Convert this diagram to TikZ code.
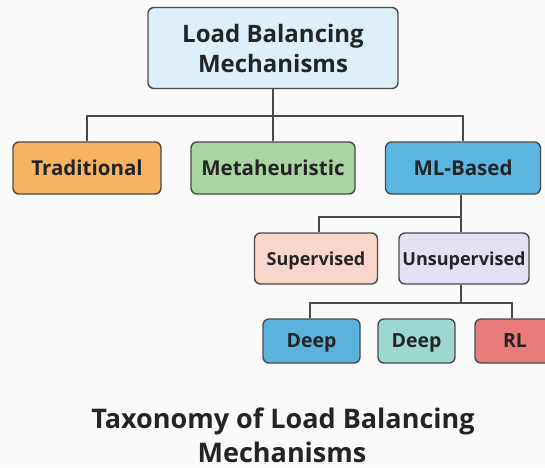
\documentclass[tikz,border=0pt]{standalone}
\usepackage{fontspec}
\setmainfont{Open Sans}
\usetikzlibrary{calc}

\definecolor{pagebg}{HTML}{FAFAFA}
\definecolor{edgegray}{HTML}{4A4A4A}
\definecolor{inkdark}{HTML}{222426}
\definecolor{rootfill}{HTML}{DDF0FA}
\definecolor{tradfill}{HTML}{F6B462}
\definecolor{metafill}{HTML}{A9D5A0}
\definecolor{mlfill}{HTML}{5CB6E2}
\definecolor{supfill}{HTML}{F8D6CB}
\definecolor{unsupfill}{HTML}{E1E1F3}
\definecolor{deepafill}{HTML}{5BB3DD}
\definecolor{deepbfill}{HTML}{9CD8CF}
\definecolor{rlfill}{HTML}{E97B7A}

\tikzset{
  box/.style={draw=edgegray, line width=1.4pt, rounded corners=6pt,
    align=center, text=inkdark, inner sep=0pt, text depth=0pt, font=\bfseries},
  link/.style={draw=edgegray, line width=1.4pt},
  topfont/.style={font=\bfseries\fontsize{24}{30}\selectfont},
  midfont/.style={font=\bfseries\fontsize{20.5}{22}\selectfont},
  lowfont/.style={font=\bfseries\fontsize{18}{20}\selectfont},
  leaffont/.style={font=\bfseries\fontsize{19.5}{22}\selectfont},
  captext/.style={text=inkdark, inner sep=0pt, anchor=base,
    font=\bfseries\fontsize{27}{30}\selectfont},
}

\begin{document}
\begin{tikzpicture}[x=1pt,y=-1pt]
  % page
  \fill[pagebg] (0,0) rectangle (545,467);
  \useasboundingbox (0,0) rectangle (545,467);

  % root
  \node[box, topfont, fill=rootfill, minimum width=250pt, minimum height=81pt]
        (root) at (273,48) {Load Balancing\\Mechanisms};

  % first level
  \node[box, midfont, fill=tradfill, minimum width=148pt, minimum height=52pt]
        (trad) at (87,168) {Traditional};
  \node[box, midfont, fill=metafill, minimum width=164pt, minimum height=52pt]
        (meta) at (273,168) {Metaheuristic};
  \node[box, midfont, fill=mlfill, minimum width=155pt, minimum height=52pt]
        (ml) at (463,168) {ML-Based};

  % second level
  \node[box, lowfont, fill=supfill, minimum width=123pt, minimum height=51pt]
        (sup) at (316,258.5) {Supervised};
  \node[box, lowfont, fill=unsupfill, minimum width=130pt, minimum height=51pt]
        (unsup) at (464,258.5) {Unsupervised};

  % third level
  \node[box, leaffont, fill=deepafill, minimum width=97pt, minimum height=44pt]
        (deepa) at (311.5,341) {Deep};
  \node[box, leaffont, fill=deepbfill, minimum width=77pt, minimum height=44pt]
        (deepb) at (416.5,341) {Deep};
  \node[box, leaffont, fill=rlfill, minimum width=80pt, minimum height=44pt]
        (rl) at (515,341) {RL};

  % bus rails
  \coordinate (busa) at (273,116);
  \coordinate (busb) at (461,217);
  \coordinate (busc) at (461,303);

  % connectors, level 1
  \draw[link] (root.south) -- (busa);
  \draw[link] (trad.north) |- (busa) -| (ml.north);
  \draw[link] (meta.north) -- (meta.north |- busa);

  % connectors, level 2
  \draw[link] ($(ml.south)+(-2,0)$) -- ($(unsup.north)+(-3,0)$);
  \draw[link] ($(sup.north)+(3,0)$) |- (busb);

  % connectors, level 3
  \draw[link] ($(unsup.south)+(-3,0)$) -- (busc);
  \draw[link] ($(deepa.north)+(-1.5,0)$) |- (busc) -| ($(rl.north)+(-3,0)$);
  \draw[link] ($(deepb.north)+(-6.5,0)$) -- ($(deepb.north)+(-6.5,0)$ |- busc);

  % caption
  \node[captext] (capa) at (283,428) {Taxonomy of Load Balancing};
  \node[captext] (capb) at (282,462) {Mechanisms};
\end{tikzpicture}
\end{document}
